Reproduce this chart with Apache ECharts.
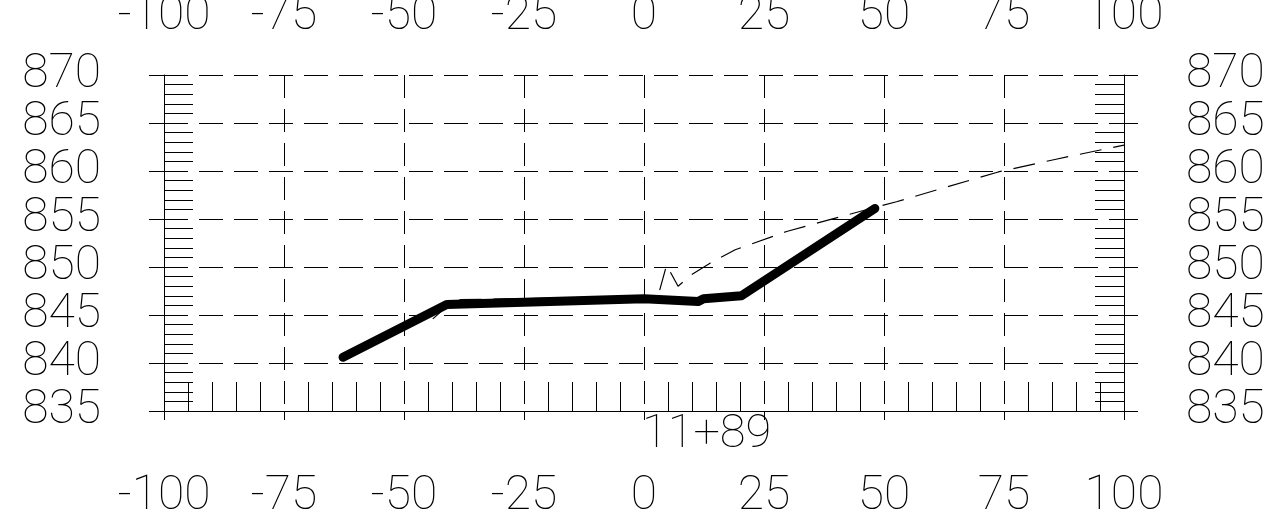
<!DOCTYPE html>
<html><head><meta charset="utf-8">
<script src="https://cdn.jsdelivr.net/npm/echarts@6/dist/echarts.min.js"></script>
<style>html,body{margin:0;padding:0;background:#fff}#c{width:1287px;height:521px}</style>
</head><body><div id="c"></div>
<script>
// ---- data ----
const xTickLabels = ['-100', '-75', '-50', '-25', '0', '25', '50', '75', '100'];
const yTickLabels = ['835', '840', '845', '850', '855', '860', '865', '870'];
const stationLabel = '11+89';
const stationOffset = 0;
// proposed section (thick)
const proposedX = [-62.7, -41.1, 0, 11.3, 12.4, 20.3, 48.1];
const proposedY = [840.6, 846.1, 846.7, 846.4, 846.7, 847.0, 856.1];
// existing ground (thin dashed)
const existingX = [-44.0, -39.5, 0, 3.0, 4.7, 7.1, 9.9, 13.75, 19.0, 29.7, 43.6, 52.6, 73.8, 85.6, 100];
const existingY = [844.6, 846.6, 846.9, 847.1, 850.2, 848.0, 849.2, 850.4, 851.8, 853.7, 855.6, 856.8, 859.9, 861.2, 862.7];

const xTicks = xTickLabels.map(Number);
const yTicks = yTickLabels.map(Number);
const FONT = 'Roboto, "DejaVu Sans", sans-serif';
const labelStyle = { color: '#000', fontSize: 48, fontFamily: FONT, fontWeight: 100 };

const zip = (a, b) => a.map((v, i) => [v, b[i]]);

const extData = [];
yTicks.forEach(v => extData.push([0, v]));
xTicks.forEach(v => extData.push([1, v]));
extData.push([2, stationOffset]);

const crisp = v => Math.round(v) + 0.5;

function renderExt(params, api) {
  const kind = api.value(0), v = api.value(1);
  const ls = { stroke: '#000', lineWidth: 1 };
  if (kind === 0) {
    const p1 = api.coord([xTicks[0], v]);
    const p2 = api.coord([xTicks[xTicks.length - 1], v]);
    const y = crisp(p1[1]);
    return { type: 'group', children: [
      { type: 'line', shape: { x1: p1[0] - 15, y1: y, x2: p1[0] + 24, y2: y }, style: ls },
      { type: 'line', shape: { x1: p2[0] - 1, y1: y, x2: p2[0] + 14, y2: y }, style: ls }
    ]};
  } else if (kind === 1) {
    const p = api.coord([v, yTicks[0]]);
    const x = crisp(p[0]);
    return { type: 'line', shape: { x1: x, y1: p[1], x2: x, y2: p[1] + 9 }, style: ls };
  } else {
    const p = api.coord([v, yTicks[0]]);
    return { type: 'text', style: { text: stationLabel, x: p[0] - 2, y: p[1] + 24,
      fill: '#000', fontSize: 47, fontFamily: FONT, fontWeight: 100, align: 'left', verticalAlign: 'middle' } };
  }
}

const chart = echarts.init(document.getElementById('c'), null, { renderer: 'canvas' });
chart.setOption({
  animation: false,
  backgroundColor: '#fff',
  grid: { left: 164, right: 163, top: 75, bottom: 110, containLabel: false, outerBoundsMode: 'none' },
  xAxis: [
    { type: 'value', position: 'bottom', min: -100, max: 100, interval: 25,
      axisLine: { show: true, onZero: false, lineStyle: { color: '#000', width: 1 } },
      axisTick: { show: false, inside: true },
      minorTick: { show: true, splitNumber: 5, length: 29, lineStyle: { color: '#000', width: 1 } },
      splitLine: { show: true, lineStyle: { color: '#000', width: 1, type: [23, 11] } },
      minorSplitLine: { show: false },
      axisLabel: Object.assign({ margin: 62, formatter: (v, i) => xTickLabels[i] }, labelStyle) },
    { type: 'value', position: 'top', min: -100, max: 100, interval: 25,
      axisLine: { show: false }, axisTick: { show: false }, splitLine: { show: false },
      axisLabel: Object.assign({ margin: 34, formatter: (v, i) => xTickLabels[i] }, labelStyle) }
  ],
  yAxis: [
    { type: 'value', position: 'left', min: 835, max: 870, interval: 5,
      axisLine: { show: true, onZero: false, lineStyle: { color: '#000', width: 1 } },
      axisTick: { show: false, inside: true },
      minorTick: { show: true, splitNumber: 5, length: 29, lineStyle: { color: '#000', width: 1 } },
      splitLine: { show: true, lineStyle: { color: '#000', width: 1, type: [24, 11] } },
      axisLabel: Object.assign({ margin: 63, formatter: (v, i) => yTickLabels[i] }, labelStyle) },
    { type: 'value', position: 'right', min: 835, max: 870, interval: 5,
      axisLine: { show: true, onZero: false, lineStyle: { color: '#000', width: 1 } },
      axisTick: { show: false, inside: true },
      minorTick: { show: true, splitNumber: 5, length: 29, lineStyle: { color: '#000', width: 1 } },
      splitLine: { show: false },
      axisLabel: Object.assign({ margin: 62, formatter: (v, i) => yTickLabels[i] }, labelStyle) }
  ],
  series: [
    { type: 'custom', name: 'frame', xAxisIndex: 0, yAxisIndex: 0, clip: false, silent: true,
      renderItem: renderExt, data: extData, z: 3 },
    { type: 'line', name: 'existing', xAxisIndex: 0, yAxisIndex: 0, data: zip(existingX, existingY),
      showSymbol: false, symbol: 'none', clip: false, z: 4,
      lineStyle: { color: '#000', width: 1.2, type: [22, 12] } },
    { type: 'line', name: 'proposed', xAxisIndex: 0, yAxisIndex: 0, data: zip(proposedX, proposedY),
      showSymbol: false, symbol: 'none', clip: false, z: 5,
      lineStyle: { color: '#000', width: 9, cap: 'round', join: 'round' } }
  ]
});
</script></body></html>
